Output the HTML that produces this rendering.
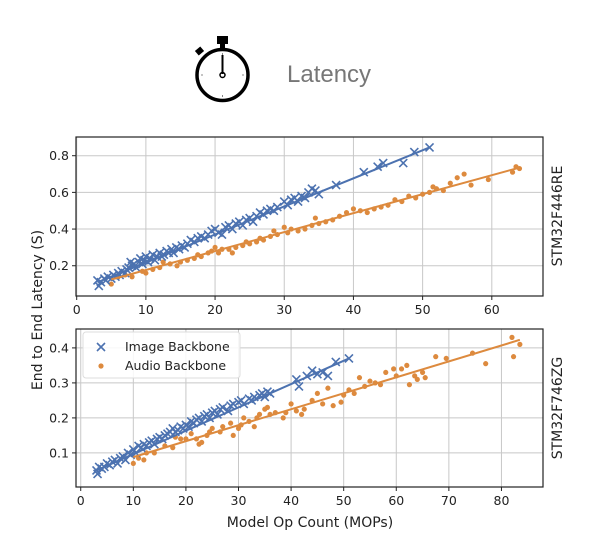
<!DOCTYPE html>
<html><head><meta charset="utf-8"><style>
body{margin:0;background:#fff;}
svg{display:block;font-family:"DejaVu Sans","Liberation Sans",sans-serif;}
</style></head><body>
<svg id="c" width="596" height="552" viewBox="0 0 596 552" xmlns="http://www.w3.org/2000/svg">
<g>
<rect x="217" y="36" width="11" height="8" fill="#000"/>
<rect x="220" y="43" width="5" height="6" fill="#000"/>
<rect x="196" y="48" width="7" height="6" fill="#000" transform="rotate(-40 199.5 51)"/>
<circle cx="222.5" cy="75" r="25.5" fill="#fff" stroke="#000" stroke-width="3.5"/>
<g stroke="#888" stroke-width="1">
<line x1="222.5" y1="53" x2="222.5" y2="55"/><line x1="222.5" y1="95" x2="222.5" y2="97"/>
<line x1="201" y1="75" x2="203" y2="75"/><line x1="242" y1="75" x2="244" y2="75"/>
</g>
<line x1="222.5" y1="55" x2="222.5" y2="74" stroke="#000" stroke-width="2"/>
<circle cx="222.5" cy="75" r="2.5" fill="none" stroke="#000" stroke-width="1.5"/>
</g>
<text x="287" y="82" font-family="Liberation Sans, sans-serif" font-size="24" fill="#777">Latency</text>
<g id="plots"></g>
<text transform="translate(42 310) rotate(-90)" text-anchor="middle" font-size="14" fill="#222">End to End Latency (S)</text>
<text x="310" y="527" text-anchor="middle" font-size="14" fill="#222">Model Op Count (MOPs)</text>
<text transform="translate(562 216) rotate(-90)" text-anchor="middle" font-size="14" fill="#222">STM32F446RE</text>
<text transform="translate(562 408) rotate(-90)" text-anchor="middle" font-size="14" fill="#222">STM32F746ZG</text>
</svg>
<script>
const topImage=[[3,0.12],[3.2,0.09],[3.5,0.11],[4,0.13],[4.2,0.12],[4.5,0.14],[5,0.13],[5.3,0.15],[5.6,0.14],[6,0.16],[6.2,0.15],[6.5,0.17],[7,0.16],[7.2,0.18],[7.5,0.19],[7.8,0.22],[8,0.2],[8.3,0.21],[8.6,0.19],[9,0.22],[9.2,0.24],[9.5,0.21],[9.8,0.23],[10,0.25],[10.3,0.22],[10.6,0.24],[11,0.26],[11.3,0.23],[11.6,0.25],[12,0.27],[12.3,0.25],[12.6,0.26],[13,0.28],[13.3,0.27],[13.7,0.29],[14,0.27],[14.4,0.3],[14.8,0.29],[15.2,0.31],[15.6,0.3],[16,0.32],[16.5,0.34],[17,0.33],[17.5,0.35],[18,0.36],[18.5,0.35],[19,0.37],[19.5,0.39],[20,0.4],[20.5,0.38],[21,0.37],[21.5,0.41],[22,0.42],[22.5,0.4],[23,0.43],[23.5,0.44],[24,0.42],[24.5,0.45],[25,0.46],[25.5,0.44],[26,0.47],[26.5,0.49],[27,0.48],[27.5,0.5],[28,0.51],[28.5,0.5],[29,0.52],[30,0.55],[30.5,0.53],[31,0.56],[31.5,0.57],[32,0.55],[32.5,0.58],[33,0.57],[33.5,0.6],[34,0.62],[34.5,0.61],[35,0.59],[37.5,0.64],[41.5,0.71],[43.5,0.74],[44.3,0.76],[47.2,0.76],[48.8,0.82],[51,0.845]];
const topAudio=[[5,0.1],[6,0.14],[7,0.15],[8,0.14],[9.5,0.17],[10,0.16],[11,0.18],[12,0.19],[12.5,0.22],[13.5,0.21],[14.5,0.2],[15,0.22],[16,0.23],[17,0.24],[17.5,0.26],[18,0.25],[19,0.27],[19.5,0.28],[20,0.3],[20.5,0.27],[21,0.29],[22,0.29],[22.5,0.27],[23,0.3],[24,0.31],[24.5,0.33],[25,0.32],[26,0.33],[26.5,0.35],[27,0.34],[28,0.36],[28.5,0.39],[29,0.37],[30,0.41],[30.5,0.38],[31,0.4],[32,0.39],[33,0.4],[34,0.42],[34.5,0.46],[35,0.43],[36,0.44],[37,0.45],[38,0.47],[39,0.49],[40,0.51],[41,0.5],[42,0.49],[43,0.51],[44,0.52],[45,0.53],[46,0.56],[47,0.55],[48,0.58],[49,0.57],[50,0.59],[51,0.6],[51.5,0.63],[52,0.62],[53,0.61],[54,0.65],[55,0.68],[56,0.7],[57,0.64],[59.5,0.67],[63,0.71],[63.5,0.74],[64,0.73]];
const botImage=[[3,0.05],[3.2,0.04],[3.5,0.06],[4,0.055],[4.5,0.06],[5,0.07],[5.5,0.065],[6,0.075],[6.5,0.08],[7,0.07],[7.5,0.085],[8,0.09],[8.5,0.08],[9,0.1],[9.5,0.095],[10,0.11],[10.5,0.1],[11,0.12],[11.5,0.115],[12,0.125],[12.5,0.12],[13,0.13],[13.5,0.135],[14,0.125],[14.5,0.14],[15,0.145],[15.5,0.14],[16,0.15],[16.5,0.155],[17,0.16],[17.5,0.17],[18,0.16],[18.5,0.165],[19,0.175],[19.5,0.17],[20,0.18],[20.5,0.175],[21,0.19],[21.5,0.185],[22,0.195],[22.5,0.2],[23,0.19],[23.5,0.205],[24,0.21],[24.5,0.2],[25,0.215],[25.5,0.22],[26,0.21],[26.5,0.225],[27,0.23],[28,0.22],[28.5,0.235],[29,0.24],[30,0.245],[30.5,0.25],[31,0.24],[32,0.255],[32.5,0.25],[33,0.26],[34,0.265],[34.5,0.27],[35,0.26],[35.5,0.275],[36,0.27],[41,0.31],[41.5,0.29],[43,0.32],[44,0.335],[45,0.325],[46,0.33],[47,0.32],[48.5,0.36],[51,0.37]];
const botAudio=[[10,0.07],[11,0.085],[12,0.08],[12.5,0.1],[14,0.1],[16,0.12],[17.5,0.115],[18,0.145],[19,0.14],[20,0.14],[21,0.155],[22,0.14],[22.5,0.125],[23,0.13],[24,0.15],[24.5,0.16],[25,0.17],[26.5,0.16],[27,0.175],[28.5,0.185],[29,0.15],[30,0.17],[30.5,0.18],[31,0.2],[32,0.19],[33,0.175],[33.5,0.2],[34,0.21],[35,0.225],[35.5,0.23],[36,0.21],[37,0.215],[38.5,0.2],[39,0.215],[40,0.24],[41,0.22],[42,0.21],[42.5,0.225],[44,0.25],[45,0.27],[46,0.24],[47,0.285],[48,0.235],[49.5,0.245],[50,0.265],[51,0.28],[52,0.27],[53,0.315],[54,0.29],[55,0.305],[56,0.3],[57,0.295],[58,0.33],[59.5,0.34],[60,0.32],[61,0.34],[62,0.35],[62.5,0.295],[63.5,0.32],[64,0.31],[65,0.33],[65.5,0.315],[67.5,0.375],[69.5,0.37],[74.5,0.385],[77,0.355],[82,0.43],[82.3,0.375],[83.5,0.41]];
const topImageFit=[[3,0.11],[51,0.845]];
const topAudioFit=[[5,0.125],[64,0.735]];
const botImageFit=[[3,0.05],[51,0.37]];
const botAudioFit=[[10,0.088],[83.5,0.423]];
const topXTicks=[0,10,20,30,40,50,60];
const topYTicks=[0.2,0.4,0.6,0.8];
const botXTicks=[0,10,20,30,40,50,60,70,80];
const botYTicks=[0.1,0.2,0.3,0.4];

const NS="http://www.w3.org/2000/svg";
const BLUE="#4c72b0",ORANGE="#dd8a3e";
const root=document.getElementById('plots');
function mk(tag,attrs,parent){const e=document.createElementNS(NS,tag);for(const k in attrs)e.setAttribute(k,attrs[k]);(parent||root).appendChild(e);return e;}

function panel(name,box,xd,yd,xt,yt,img,aud,imgFit,audFit,legend){
  const g=mk('g',{});
  
  
  const sx=v=>box.l+(v-xd[0])/(xd[1]-xd[0])*(box.r-box.l);
  const sy=v=>box.b-(v-yd[0])/(yd[1]-yd[0])*(box.b-box.t);
  xt.forEach(t=>{
    const l=mk('line',{x1:sx(t),x2:sx(t),y1:box.t,y2:box.b,stroke:'#c8c8c8','stroke-width':1},g);
    
    
    mk('line',{x1:sx(t),x2:sx(t),y1:box.b,y2:box.b+4,stroke:'#222','stroke-width':1},g);
    const tx=mk('text',{x:sx(t),y:box.b+18,'text-anchor':'middle','font-size':12.5,fill:'#222'},g);
    tx.textContent=t;
    
    
  });
  yt.forEach(t=>{
    const l=mk('line',{x1:box.l,x2:box.r,y1:sy(t),y2:sy(t),stroke:'#c8c8c8','stroke-width':1},g);
    
    
    mk('line',{x1:box.l-4,x2:box.l,y1:sy(t),y2:sy(t),stroke:'#222','stroke-width':1},g);
    const tx=mk('text',{x:box.l-7,y:sy(t)+4.5,'text-anchor':'end','font-size':12.5,fill:'#222'},g);
    tx.textContent=t.toFixed(1);
    
    
  });
  aud.forEach(p=>{
    const c=mk('circle',{cx:sx(p[0]),cy:sy(p[1]),r:2.6,fill:ORANGE},g);
    
    
  });
  img.forEach(p=>{
    const x=sx(p[0]),y=sy(p[1]),s=4;
    const m=mk('path',{d:`M${x-s},${y-s}L${x+s},${y+s}M${x-s},${y+s}L${x+s},${y-s}`,stroke:BLUE,'stroke-width':1.6},g);
    
    
  });
  const f1=mk('line',{x1:sx(imgFit[0][0]),y1:sy(imgFit[0][1]),x2:sx(imgFit[1][0]),y2:sy(imgFit[1][1]),stroke:BLUE,'stroke-width':2},g);
  
  
  const f2=mk('line',{x1:sx(audFit[0][0]),y1:sy(audFit[0][1]),x2:sx(audFit[1][0]),y2:sy(audFit[1][1]),stroke:ORANGE,'stroke-width':2},g);
  
  
  const fr=mk('rect',{x:box.l,y:box.t,width:box.r-box.l,height:box.b-box.t,fill:'none',stroke:'#222','stroke-width':1.2},g);
  
  
  if(legend){
    const lg=mk('g',{},g);
    
    
    mk('rect',{x:83,y:332,width:157,height:46,rx:3,fill:'#fff','fill-opacity':0.85,stroke:'#ddd'},lg);
    const e1=mk('g',{},lg);
    
    
    mk('path',{d:'M97,343L105,351M97,351L105,343',stroke:BLUE,'stroke-width':1.6},e1);
    const t1=mk('text',{x:125,y:351,'font-size':12.5,fill:'#222'},e1);t1.textContent='Image Backbone';
    const e2=mk('g',{},lg);
    
    
    mk('circle',{cx:101,cy:366,r:2.6,fill:ORANGE},e2);
    const t2=mk('text',{x:125,y:370,'font-size':12.5,fill:'#222'},e2);t2.textContent='Audio Backbone';
  }
}
panel('top-panel',{l:76,r:543,t:137,b:296},[-0.1,67.4],[0.035,0.902],topXTicks,topYTicks,topImage,topAudio,topImageFit,topAudioFit,false);
panel('bottom-panel',{l:76,r:543,t:329,b:487},[-0.9,87.9],[0.0026,0.454],botXTicks,botYTicks,botImage,botAudio,botImageFit,botAudioFit,true);
</script>
</body></html>
